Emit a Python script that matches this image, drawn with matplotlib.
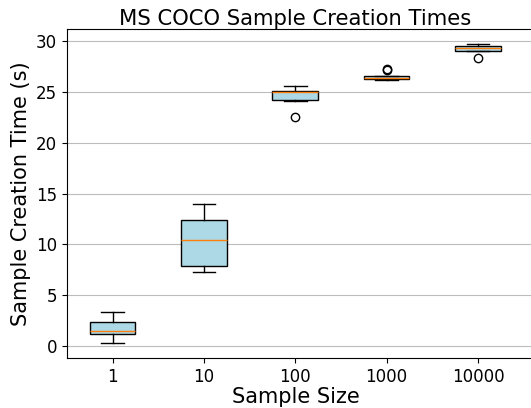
import matplotlib
matplotlib.use("Agg")
import matplotlib.pyplot as plt

# temps de creation (s) par taille d'echantillon
sizes = ["1", "10", "100", "1000", "10000"]
med = [1.41, 10.39, 25.0, 26.38, 29.33]
q1 = [1.15, 7.87, 24.25, 26.30, 29.10]
q3 = [2.39, 12.39, 25.07, 26.55, 29.57]
whislo = [0.27, 7.25, 24.12, 26.25, 29.05]
whishi = [3.31, 13.96, 25.66, 26.60, 29.76]
fliers = [[], [], [22.55], [27.2, 27.3], [28.35]]

stats = []
for i in range(len(sizes)):
    stats.append({"med": med[i], "q1": q1[i], "q3": q3[i],
                  "whislo": whislo[i], "whishi": whishi[i],
                  "fliers": fliers[i], "label": sizes[i]})

fig = plt.figure(figsize=(5.31, 4.08), dpi=100)
ax = fig.add_axes([0.126, 0.1225, 0.91, 0.8065])
ax.bxp(stats, patch_artist=True,
       boxprops=dict(facecolor="lightblue"),
       medianprops=dict(color="C1"))
ax.set_xlim(0.5, 5.79)
ax.yaxis.grid(True, color="#bcbcbc")
ax.set_axisbelow(True)
ax.tick_params(labelsize=12)
ax.set_xlabel("Sample Size", fontsize=15)
ax.xaxis.set_label_coords(0.473, -0.088)
ax.set_ylabel("Sample Creation Time (s)", fontsize=15)
ax.set_title("MS COCO Sample Creation Times", fontsize=15.2, x=0.473, pad=3)
fig.savefig("out.png")
